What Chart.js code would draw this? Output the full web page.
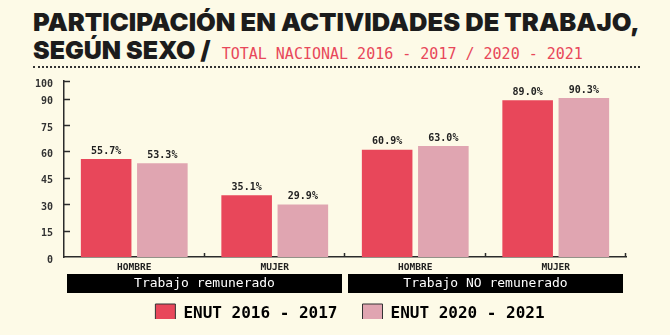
<!DOCTYPE html>
<html>
<head>
<meta charset="utf-8">
<script src="https://cdn.jsdelivr.net/npm/chart.js@4.4.1/dist/chart.umd.min.js"></script>
<style>
	html, body { margin: 0; padding: 0; background: #fdfae7; }
	#page { position: relative; width: 670px; height: 335px; overflow: hidden; background: #fdfae7; }
	.title { position: absolute; left: 33px; white-space: nowrap; font-family: "Inter", "DejaVu Sans", sans-serif; font-weight: 900; font-size: 25px; color: #1c1c1c; transform-origin: left center; }
	#t1 { top: 7px; }
	#t2 { top: 35px; }
	#t2 .sub { font-family: "DejaVu Sans Mono", monospace; font-weight: normal; font-size: 15px; color: #e8485a; margin-left: 6px; }
	#rule { position: absolute; left: 33px; top: 66px; width: 607px; border-top: 2px dotted #333; }
	#wrap { position: absolute; left: 0; top: 72px; width: 670px; height: 263px; }
</style>
</head>
<body>
<div id="page">
	<div class="title" id="t1">PARTICIPACIÓN EN ACTIVIDADES DE TRABAJO,</div>
	<div class="title" id="t2">SEGÚN SEXO / <span class="sub">TOTAL NACIONAL 2016 - 2017 / 2020 - 2021</span></div>
	<div id="rule"></div>
	<div id="wrap"><canvas id="chart"></canvas></div>
</div>
<script>
const categories = ["HOMBRE", "MUJER", "HOMBRE", "MUJER"];
const groups = ["Trabajo remunerado", "Trabajo NO remunerado"];
const seriesNames = ["ENUT 2016 - 2017", "ENUT 2020 - 2021"];
const enut2016 = [55.7, 35.1, 60.9, 89.0];
const enut2020 = [53.3, 29.9, 63.0, 90.3];
const yTicks = [0, 15, 30, 45, 60, 75, 90, 100];

const red = "#e8475a";
const pink = "#e0a5b1";
const ink = "#2b2b2b";
const mono = "'DejaVu Sans Mono', monospace";

// fit the first title line to the rule width
const t1 = document.getElementById("t1");
const k = 607 / t1.offsetWidth;
t1.style.transform = "scaleX(" + k + ")";

// value labels, inward ticks and the two group bars under the axis
const extras = {
	id: "extras",
	afterLayout: function(chart) {
		const lg = chart.legend;
		lg.left += 37;
		lg.right += 37;
		lg.top -= 12;
		lg.bottom -= 12;
	},
	afterDatasetsDraw: function(chart) {
		const ctx = chart.ctx;
		const x = chart.scales.x;
		const y = chart.scales.y;
		ctx.save();
		ctx.font = "bold 10px " + mono;
		ctx.fillStyle = "#222";
		ctx.textAlign = "center";
		ctx.textBaseline = "bottom";
		chart.data.datasets.forEach(function(ds, i) {
			chart.getDatasetMeta(i).data.forEach(function(bar, j) {
				ctx.fillText(ds.data[j].toFixed(1) + "%", bar.x, bar.y - 3);
			});
		});

		ctx.strokeStyle = ink;
		ctx.lineWidth = 1.5;
		y.ticks.forEach(function(t) {
			if (t.value === 0) return;
			const py = Math.round(y.getPixelForValue(t.value)) + 0.5;
			ctx.beginPath();
			ctx.moveTo(x.left, py);
			ctx.lineTo(x.left + 6, py);
			ctx.stroke();
		});
		const cw = (x.right - x.left) / categories.length;
		for (let i = 1; i <= categories.length; i++) {
			const px = Math.round(x.left + cw * i) - 0.5;
			ctx.beginPath();
			ctx.moveTo(px, y.bottom);
			ctx.lineTo(px, y.bottom - 4);
			ctx.stroke();
		}

		const top = x.top + 17;
		groups.forEach(function(g, i) {
			const l = x.left + cw * 2 * i + 3;
			const r = x.left + cw * 2 * (i + 1) - 3;
			ctx.fillStyle = "#000";
			ctx.fillRect(l, top, r - l, 19);
			ctx.fillStyle = "#fff";
			ctx.font = "13px " + mono;
			ctx.textBaseline = "middle";
			ctx.fillText(g, (l + r) / 2, top + 10);
		});
		ctx.restore();
	}
};

new Chart(document.getElementById("chart"), {
	type: "bar",
	data: {
		labels: categories,
		datasets: [
			{ label: seriesNames[0], data: enut2016, backgroundColor: red, borderWidth: 0 },
			{ label: seriesNames[1], data: enut2020, backgroundColor: pink, borderWidth: 0 }
		]
	},
	options: {
		responsive: true,
		maintainAspectRatio: false,
		animation: false,
		layout: { padding: { top: 9, right: 44, bottom: 4, left: 0 } },
		datasets: { bar: { categoryPercentage: 0.8, barPercentage: 0.9 } },
		plugins: {
			tooltip: { enabled: false },
			legend: {
				position: "bottom",
				maxHeight: 40,
				labels: {
					color: "#1c1c1c",
					font: { family: mono, weight: "bold", size: 16 },
					boxWidth: 20,
					boxHeight: 20,
					padding: 25,
					generateLabels: function(chart) {
						return chart.data.datasets.map(function(ds, i) {
							return { text: ds.label, fillStyle: ds.backgroundColor, strokeStyle: "#333", lineWidth: 1, datasetIndex: i };
						});
					}
				}
			}
		},
		scales: {
			x: {
				grid: { display: false, drawTicks: false },
				border: { color: ink, width: 1.5 },
				ticks: { color: "#222", font: { family: mono, weight: "bold", size: 9.5 }, padding: 5 },
				afterFit: function(scale) {
					scale.height = 34;
					scale.paddingLeft = 0;
					scale.paddingRight = 0;
				}
			},
			y: {
				min: 0,
				max: 100,
				grid: { display: false, drawTicks: false },
				border: { color: ink, width: 1.5 },
				ticks: { color: "#333", font: { family: mono, weight: "bold", size: 10 }, padding: 11, labelOffset: 3 },
				afterBuildTicks: function(scale) {
					scale.ticks = yTicks.map(function(v) { return { value: v }; });
				},
				afterFit: function(scale) {
					scale.width = 64;
					scale.paddingTop = 0;
					scale.paddingBottom = 0;
				}
			}
		}
	},
	plugins: [extras]
});
</script>
</body>
</html>
